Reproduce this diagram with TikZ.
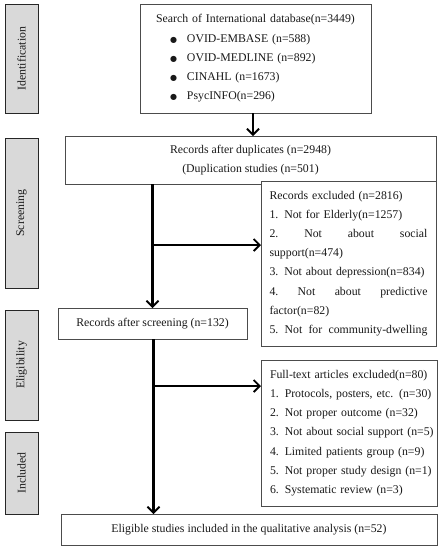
\documentclass[tikz,border=0pt]{standalone}
\usepackage{fontspec}
\setmainfont{Liberation Serif}
\newfontfamily\dejavu{DejaVu Sans}
\usetikzlibrary{arrows.meta,shadows}
\newcommand\jline[1]{\leavevmode\hbox to 158pt{#1}}
\newcommand\lline[1]{\leavevmode\hbox to 158pt{#1\hss}}
\newcommand\bul{\hspace*{12.5pt}{\dejavu\fontsize{8}{8}\selectfont ●}\hspace{10pt}}
\begin{document}
\begin{tikzpicture}[x=1pt,y=-1pt,
  every node/.style={font=\fontsize{11.8}{19.2}\selectfont, text=black!90},
  box/.style={draw=black!70, line width=0.8pt, fill=white, inner sep=0pt, outer sep=0pt},
  stage/.style={draw=black!85, line width=0.7pt, fill=black!15, rotate=90, inner sep=0pt, outer sep=0pt,
    drop shadow={shadow xshift=1.2pt, shadow yshift=-1.2pt, fill=black!85, opacity=1}},
  arr/.style={line width=2.2pt, -{Straight Barb[length=6pt,width=12pt,line width=1.8pt]}}]
\useasboundingbox (0,0) rectangle (440,550);
% stage labels
\node[stage, minimum width=109, minimum height=33] (s1) at (21.5,58.5) {Identification};
\node[stage, minimum width=150, minimum height=33] (s2) at (21.5,213) {Screening};
\node[stage, minimum width=110, minimum height=33] (s3) at (21.5,365) {Eligibility};
\node[stage, minimum width=82, minimum height=33] (s4) at (21.5,473) {Included};
% boxes
\node[box, minimum width=231, minimum height=109, text width=196, align=left] (b1) at (255.5,58.5)
 {\leavevmode\hbox to 196pt{\hss Search of International database(n=3449)\hss}\\
  \bul OVID-EMBASE (n=588)\\
  \bul OVID-MEDLINE (n=892)\\
  \bul CINAHL (n=1673)\\
  \bul PsycINFO(n=296)};
\node[box, minimum width=371, minimum height=48, align=center] (b2) at (250.5,160)
 {Records after duplicates (n=2948)\\(Duplication studies (n=501)};
\node[box, minimum width=175, minimum height=165, text width=158, align=left] (b3) at (348.5,263.5)
 {Records excluded (n=2816)\\
  1. Not for Elderly(n=1257)\\
  \jline{2.\hfill Not\hfill about\hfill social}\\
  support(n=474)\\
  3. Not about depression(n=834)\\
  \jline{4.\hfill Not\hfill about\hfill predictive}\\
  factor(n=82)\\
  \jline{5.\hfill Not\hfill for\hfill community-dwelling}};
\node[box, minimum width=189, minimum height=31, align=center] (b4) at (152.5,323.5)
 {Records after screening (n=132)};
\node[box, minimum width=176, minimum height=146, text width=158, align=left] (b5) at (349,433)
 {\lline{Full-text articles excluded(n=80)}\\
  \lline{1. Protocols, posters, etc. (n=30)}\\
  \lline{2. Not proper outcome (n=32)}\\
  \lline{3. Not about social support (n=5)}\\
  \lline{4. Limited patients group (n=9)}\\
  \lline{5. Not proper study design (n=1)}\\
  \lline{6. Systematic review (n=3)}};
\node[box, minimum width=376, minimum height=31, align=center] (b6) at (249,529.5)
 {Eligible studies included in the qualitative analysis (n=52)};
% connectors
\draw[arr] ([xshift=-2.5pt]b1.south) -- ([xshift=-2.5pt]b1.south |- b2.north);
\coordinate (j1) at (152,245);
\draw[arr] (b4.north |- b2.south) -- (b4.north);
\draw[arr] (j1) -- (j1 -| b3.west);
\coordinate (j2) at (153.5,386);
\draw[arr] ([xshift=1pt]b4.south) -- ([xshift=1pt]b4.south |- b6.north);
\draw[arr] (j2) -- (j2 -| b5.west);
\end{tikzpicture}
\end{document}
